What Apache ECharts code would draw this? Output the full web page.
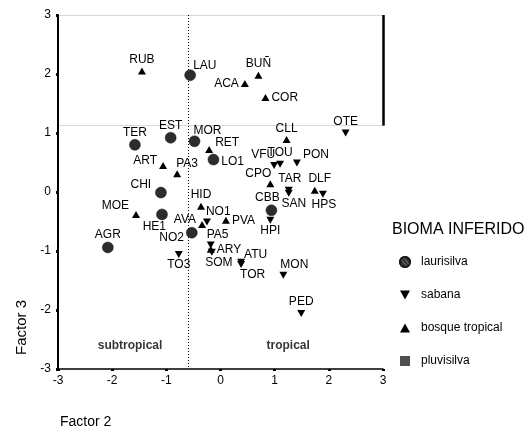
<!DOCTYPE html>
<html>
<head>
<meta charset="utf-8">
<script src="https://cdn.jsdelivr.net/npm/echarts@6/dist/echarts.min.js"></script>
<style>html,body{margin:0;padding:0;background:#fff;}#c{width:528px;height:429px;}</style>
</head>
<body>
<div id="c"></div>
<script>
// ---- data ----
const lauNames = ['LAU','TER','EST','MOR','LO1','CHI','HE1','NO2','AGR','CBB'];
const lauX = [-0.56,-1.58,-0.92,-0.48,-0.13,-1.10,-1.08,-0.53,-2.08,0.94];
const lauY = [1.98,0.80,0.92,0.86,0.55,-0.01,-0.38,-0.69,-0.94,-0.31];

const sabNames = ['OTE','VFU','TOU','PON','TAR','SAN','HPS','HPI','NO1','PA5','SOM','TO3','ATU','TOR','MON','PED'];
const sabX = [2.31,0.99,1.10,1.41,1.26,1.26,1.89,0.92,-0.25,-0.18,-0.16,-0.77,0.38,0.38,1.16,1.49];
const sabY = [1.00,0.45,0.47,0.49,0.03,-0.02,-0.04,-0.48,-0.51,-0.90,-1.02,-1.06,-1.19,-1.23,-1.41,-2.06];

const bosNames = ['RUB','BUÑ','ACA','COR','CLL','RET','ART','PA3','CPO','DLF','HID','MOE','AVA','PVA','ARY'];
const bosX = [-1.45,0.70,0.45,0.83,1.22,-0.21,-1.06,-0.80,0.92,1.74,-0.36,-1.56,-0.34,0.10,-0.18];
const bosY = [2.05,1.98,1.84,1.60,0.89,0.72,0.45,0.31,0.14,0.03,-0.24,-0.38,-0.55,-0.48,-0.97];

const regionNames = ['subtropical','tropical'];
const regionX = [-1.67,1.25];
const regionY = [-2.6,-2.6];

const dividerX = -0.6;
const upperBoxY = 1.125;

const seriesNames = ['laurisilva','sabana','bosque tropical','pluvisilva'];
const axisTicks = [-3,-2,-1,0,1,2,3];

// ---- label placement (styling) ----
const FONT = 'Liberation Sans, Arial, sans-serif';
function lab(pos, dx, dy, align, dist){
  const o = {position:pos, distance:(dist===undefined?2:dist), offset:[dx||0, dy||0]};
  if (align) o.align = align;
  return o;
}
const place = {
  RUB:lab('top'), LAU:lab('top',3,3,'left',1), 'BUÑ':lab('top'), ACA:lab('left'), COR:lab('right'),
  OTE:lab('top'), CLL:lab('top',0,1), TER:lab('top',0,2), EST:lab('top',0,2), MOR:lab('top',-1,2,'left',1),
  RET:lab('right',0,-7), LO1:lab('right',0,2), ART:lab('left',0,-5), PA3:lab('top',-1,0,'left',1),
  CHI:lab('left',-2,-8), VFU:lab('top',1,0,'right',1), TOU:lab('top'), PON:lab('right',0,-8),
  CPO:lab('top',1,0,'right',1), TAR:lab('top',1,0), SAN:lab('bottom',5,0,null,1), DLF:lab('top',5,0),
  HPS:lab('bottom',1,0,null,1), CBB:lab('top',-4,1), HPI:lab('bottom',0,0,null,1), HID:lab('top'),
  NO1:lab('top',-1,0,'left',1), MOE:lab('left',-1,-9), HE1:lab('bottom',4,0,'right',1), AVA:lab('left',0,-5),
  PVA:lab('right'), NO2:lab('left',0,5), PA5:lab('top',-4,0,'left',1), ARY:lab('right'),
  SOM:lab('bottom',7,0,null,1), AGR:lab('top',0,1), TO3:lab('bottom',0,0,null,1), ATU:lab('top',3,3,'left',1),
  TOR:lab('bottom',-1,0,'left',1), MON:lab('top',-3,0,'left',1), PED:lab('top')
};

function pts(names, xs, ys){
  return names.map((n,i)=>({name:n, value:[xs[i],ys[i]], label:place[n]||lab('top')}));
}
const baseLabel = {show:true, formatter:'{b}', color:'#000', fontSize:12, fontFamily:FONT};

const downTri = 'path://M0,0 L10,0 L5,9 Z';
const upTri = 'path://M5,0 L10,9 L0,9 Z';

const chart = echarts.init(document.getElementById('c'), null, {renderer:'canvas'});
chart.setOption({
  animation:false,
  backgroundColor:'#fff',
  textStyle:{fontFamily:FONT},
  grid:{left:58, right:145, top:15, bottom:60, containLabel:false},
  xAxis:{
    type:'value', min:-3, max:3, interval:1,
    axisLine:{show:true, onZero:false, lineStyle:{color:'#000', width:1.5}},
    axisTick:{show:true, length:2, lineStyle:{color:'#000', width:3}},
    axisLabel:{color:'#000', fontSize:12, margin:6, fontFamily:FONT,
      formatter:v=>axisTicks.includes(v)?String(v):''},
    splitLine:{show:false}
  },
  yAxis:{
    type:'value', min:-3, max:3, interval:1,
    axisLine:{show:true, onZero:false, lineStyle:{color:'#000', width:2}},
    axisTick:{show:true, length:2, lineStyle:{color:'#000', width:3}},
    axisLabel:{color:'#000', fontSize:12, margin:7, fontFamily:FONT},
    splitLine:{show:false}
  },
  legend:{
    data:seriesNames, orient:'vertical', left:394, top:251,
    itemWidth:10, itemHeight:10, itemGap:21,
    textStyle:{color:'#000', fontSize:12, fontFamily:FONT, padding:[0,0,0,6]}
  },
  graphic:[
    {type:'text', left:392, top:222, style:{text:'BIOMA INFERIDO', font:'16px '+FONT, fill:'#000'}},
    {type:'text', x:14, y:355, rotation:Math.PI/2, style:{text:'Factor 3', font:'15px '+FONT, fill:'#000'}},
    {type:'text', left:60, top:415, style:{text:'Factor 2', font:'14px '+FONT, fill:'#000'}}
  ],
  series:[
    {
      name:'guides', type:'scatter', data:[], silent:true, legendHoverLink:false, z:0,
      markLine:{
        silent:true, symbol:'none', label:{show:false}, animation:false, precision:3, z:0,
        data:[
          [{coord:[-3,3],lineStyle:{color:'#d8d8d8',width:1,type:'solid'}},{coord:[3,3]}],
          [{coord:[-3,upperBoxY],lineStyle:{color:'#d8d8d8',width:1,type:'solid'}},{coord:[3,upperBoxY]}],
          [{coord:[3,3],lineStyle:{color:'#000',width:2.5,type:'solid'}},{coord:[3,upperBoxY]}],
          [{coord:[dividerX,3],lineStyle:{color:'#000',width:1,type:[1,2]}},{coord:[dividerX,-3]}]
        ]
      }
    },
    {
      name:'laurisilva', type:'scatter', symbol:'circle', symbolSize:11, z:3,
      itemStyle:{color:'#2c2c2c', borderColor:'#1a1a1a', borderWidth:0.5, opacity:1,
        decal:{symbol:'rect', dashArrayX:[1,0], dashArrayY:[1,2], rotation:0.9, color:'rgba(170,170,170,0.55)', symbolSize:1}},
      label:baseLabel,
      data:pts(lauNames,lauX,lauY)
    },
    {
      name:'sabana', type:'scatter', symbol:downTri, symbolSize:[8,7], z:3,
      itemStyle:{color:'#000', opacity:1},
      label:baseLabel,
      data:pts(sabNames,sabX,sabY)
    },
    {
      name:'bosque tropical', type:'scatter', symbol:upTri, symbolSize:[8,7], z:3,
      itemStyle:{color:'#000', opacity:1},
      label:baseLabel,
      data:pts(bosNames,bosX,bosY)
    },
    {
      name:'pluvisilva', type:'scatter', symbol:'rect', symbolSize:9,
      itemStyle:{color:'#222'}, data:[]
    },
    {
      name:'regions', type:'scatter', symbolSize:0, silent:true,
      label:{show:true, position:'inside', formatter:'{b}', color:'#000', fontSize:12, fontWeight:'bold', fontFamily:FONT},
      data:regionNames.map((n,i)=>({name:n, value:[regionX[i],regionY[i]]}))
    }
  ]
});
</script>
</body>
</html>
